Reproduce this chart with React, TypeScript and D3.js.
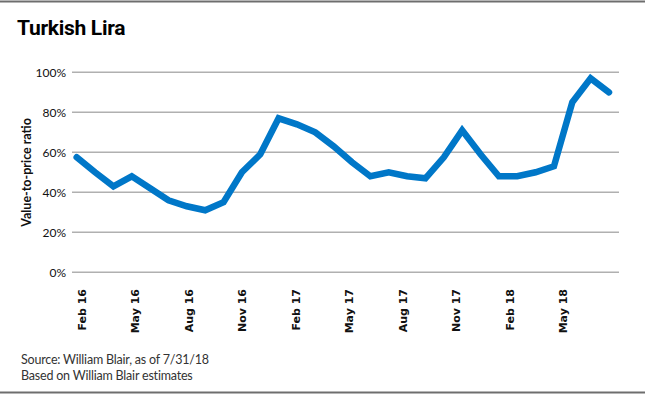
import React from "react";
import * as d3 from "d3";

const months = [
  "Feb 16","Mar 16","Apr 16","May 16","Jun 16","Jul 16","Aug 16","Sep 16","Oct 16","Nov 16","Dec 16",
  "Jan 17","Feb 17","Mar 17","Apr 17","May 17","Jun 17","Jul 17","Aug 17","Sep 17","Oct 17","Nov 17","Dec 17",
  "Jan 18","Feb 18","Mar 18","Apr 18","May 18","Jun 18","Jul 18",
];
const ratio = [
  57.5, 50, 43, 48, 42, 36, 33, 31, 35, 50, 59,
  77, 74, 70, 63, 55, 48, 50, 48, 47, 57.5, 71, 59,
  48, 48, 50, 53, 85, 97, 90,
];
const tickLabels = ["Feb 16","May 16","Aug 16","Nov 16","Feb 17","May 17","Aug 17","Nov 17","Feb 18","May 18"];
const yTicks = [0, 20, 40, 60, 80, 100];

const W = 645, H = 395;

export default function App() {
  const x = d3.scalePoint<string>().domain(months).range([76.7, 609]);
  const y = d3.scaleLinear().domain([0, 100]).range([272.3, 72.3]);
  const xl = d3.scalePoint<string>().domain(tickLabels).range([82, 563]);
  const line = d3.line<number>()
    .x((_, i) => x(months[i]) as number)
    .y((d) => y(d));

  return (
    <svg width={W} height={H} style={{ position: "fixed", left: 0, top: 0, background: "#fff" }}>
      <line x1={0} x2={W} y1={1.5} y2={1.5} stroke="#6e6e6e" strokeWidth={2} />
      <line x1={0} x2={W} y1={392.5} y2={392.5} stroke="#6e6e6e" strokeWidth={2} />
      <text x={17} y={34.5} fontFamily="Roboto" fontWeight={700} fontSize={21} letterSpacing={-0.3} fill="#000">Turkish Lira</text>

      {yTicks.map((t) => (
        <g key={t}>
          <line x1={72} x2={619} y1={y(t)} y2={y(t)} stroke="#b0b0b0" strokeWidth={1.5} />
          <text x={66} y={y(t) + 4.3} textAnchor="end" fontFamily="Lato" fontSize={12} fill="#111">{t}%</text>
        </g>
      ))}

      <text transform={`translate(31,172.5) rotate(-90)`} textAnchor="middle" fontFamily="Lato" fontWeight={700} fontSize={12.5} fill="#111">Value-to-price ratio</text>

      {tickLabels.map((l) => (
        <text key={l} transform={`translate(${(xl(l) as number) + 4},289) rotate(-90)`} textAnchor="end" fontFamily="DejaVu Sans" fontWeight={700} fontSize={11} fill="#111">{l}</text>
      ))}

      <path d={line(ratio) || ""} fill="none" stroke="#0077c8" strokeWidth={6.5} strokeLinejoin="miter" strokeLinecap="round" />

      <text x={21} y={364} fontFamily="Lato" fontSize={12.5} fill="#333" letterSpacing={-0.2}>Source: William Blair, as of 7/31/18</text>
      <text x={21} y={380} fontFamily="Lato" fontSize={12.5} fill="#333" letterSpacing={-0.2}>Based on William Blair estimates</text>
    </svg>
  );
}
